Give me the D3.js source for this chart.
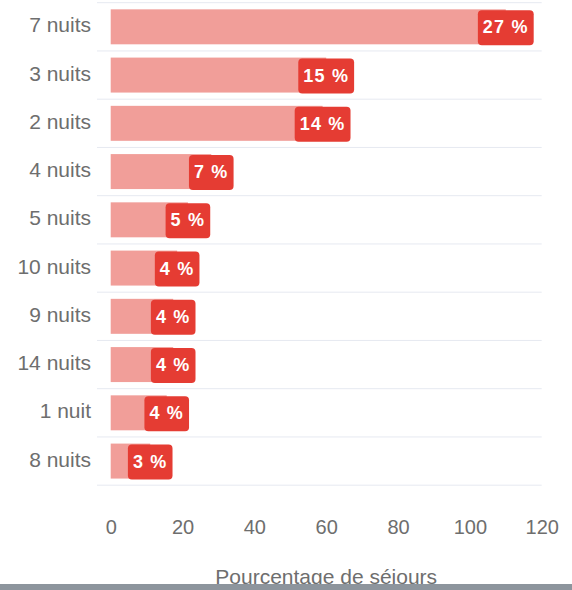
<!DOCTYPE html>
<html>
<head>
<meta charset="utf-8">
<script src="https://cdn.jsdelivr.net/npm/d3@7"></script>
<style>
  body { margin: 0; background: #fff; }
  svg { display: block; }
</style>
</head>
<body>
<script>
// durées de séjour, triées par fréquence
var categories = ["7 nuits", "3 nuits", "2 nuits", "4 nuits", "5 nuits",
                  "10 nuits", "9 nuits", "14 nuits", "1 nuit", "8 nuits"];
var values = [110, 60, 59, 28, 21.5, 18.5, 17.4, 17.4, 15.6, 11];
var pctLabels = ["27 %", "15 %", "14 %", "7 %", "5 %", "4 %", "4 %", "4 %", "4 %", "3 %"];
var xTicks = [0, 20, 40, 60, 80, 100, 120];
var axisTitle = "Pourcentage de séjours";

var width = 572, height = 590;

var svg = d3.select("body").append("svg")
    .attr("width", width)
    .attr("height", height);

var x = d3.scaleLinear().domain([0, 120]).range([110.7, 541.7]);
var y = d3.scaleBand().domain(categories).range([2.7, 485.2])
    .paddingInner(0.275).paddingOuter(0.1375);

var step = y.step();
var gap = step * y.paddingInner();

// horizontal grid lines between rows
var gridY = categories.map(function(c) { return y(c) - gap / 2; });
gridY.push(y(categories[categories.length - 1]) + y.bandwidth() + gap / 2);
svg.append("g").selectAll("line")
    .data(gridY)
    .enter().append("line")
    .attr("x1", 97).attr("x2", 541.7)
    .attr("y1", function(d) { return d; })
    .attr("y2", function(d) { return d; })
    .attr("stroke", "#e6e9f1")
    .attr("stroke-width", 1);

// category labels
svg.append("g").selectAll("text")
    .data(categories)
    .enter().append("text")
    .attr("x", 91)
    .attr("y", function(d) { return y(d) + y.bandwidth() / 2 + 5.5; })
    .attr("text-anchor", "end")
    .style("font-family", "Liberation Sans, Arial, sans-serif")
    .style("font-size", "21px")
    .style("fill", "#6e6e6e")
    .text(function(d) { return d; });

// bars
svg.append("g").selectAll("rect")
    .data(values)
    .enter().append("rect")
    .attr("x", x(0))
    .attr("y", function(d, i) { return y(categories[i]); })
    .attr("width", function(d) { return x(d) - x(0); })
    .attr("height", y.bandwidth())
    .style("fill", "#f19e99");

// value labels, boxed, centred on the bar end
var lab = svg.append("g").selectAll("g")
    .data(values)
    .enter().append("g");

lab.append("rect").attr("class", "box");
lab.append("text")
    .attr("x", function(d) { return x(d); })
    .attr("y", function(d, i) { return y(categories[i]) + y.bandwidth() / 2 + 6.5; })
    .attr("text-anchor", "middle")
    .style("font-family", "Liberation Sans, Arial, sans-serif")
    .style("font-weight", "bold")
    .style("font-size", "18px")
    .style("letter-spacing", "1.2px")
    .style("fill", "#fff")
    .text(function(d, i) { return pctLabels[i]; });

lab.each(function(d, i) {
    var g = d3.select(this);
    var w = g.select("text").node().getComputedTextLength() + 10;
    g.select("rect.box")
        .attr("x", x(d) - w / 2)
        .attr("y", y(categories[i]) + 1)
        .attr("width", w)
        .attr("height", y.bandwidth())
        .attr("rx", 4)
        .style("fill", "#e53c33");
});

// x axis (no line, no ticks)
var xAxis = svg.append("g")
    .attr("transform", "translate(0,518)")
    .call(d3.axisBottom(x).tickValues(xTicks).tickSize(0).tickPadding(0));
xAxis.select(".domain").remove();
xAxis.selectAll("text")
    .attr("dy", "0")
    .attr("y", 16)
    .style("font-family", "Liberation Sans, Arial, sans-serif")
    .style("font-size", "20px")
    .style("fill", "#6e6e6e");

svg.append("text")
    .attr("x", (x.range()[0] + x.range()[1]) / 2)
    .attr("y", 583.5)
    .attr("text-anchor", "middle")
    .style("font-family", "Liberation Sans, Arial, sans-serif")
    .style("font-size", "21px")
    .style("fill", "#6e6e6e")
    .text(axisTitle);

// grey strip at the bottom of the frame
svg.append("rect")
    .attr("x", 0).attr("y", 584)
    .attr("width", width).attr("height", height - 584)
    .style("fill", "#8d959d");
</script>
</body>
</html>
